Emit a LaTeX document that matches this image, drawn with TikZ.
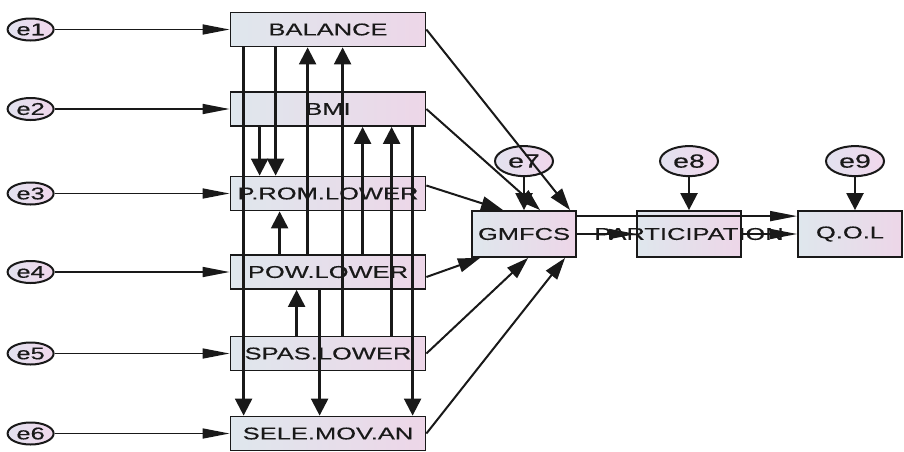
\documentclass[tikz,border=0pt]{standalone}
\usepackage{fontspec}
\newfontfamily\semfont[FakeStretch=1.5,FakeBold=0.4]{Liberation Sans}
\usetikzlibrary{arrows.meta,positioning,shapes.geometric}
\definecolor{boxleft}{RGB}{223,231,237}
\definecolor{boxright}{RGB}{237,214,232}
\definecolor{errleft}{RGB}{226,226,239}
\definecolor{errright}{RGB}{241,215,236}
\definecolor{ink}{RGB}{25,25,25}

\begin{document}
\begin{tikzpicture}[x=1pt,y=-1pt,
  obs/.style={draw=ink,line width=1.8pt,left color=boxleft,right color=boxright,
    minimum width=195pt,minimum height=34pt,inner sep=0pt,text=ink,
    font=\semfont\fontsize{17}{17}\selectfont},
  endo/.style={obs,minimum width=104pt,minimum height=46pt},
  semtext/.style={inner sep=0pt,text=ink,font=\semfont\fontsize{17}{17}\selectfont},
  err/.style={ellipse,draw=ink,line width=2pt,left color=errleft,right color=errright,
    minimum width=46pt,minimum height=22pt,inner sep=0pt,text=ink,
    font=\semfont\fontsize{17}{17}\selectfont},
  bigerr/.style={err,minimum width=58pt,minimum height=30pt,
    font=\semfont\fontsize{19}{19}\selectfont},
  harr/.style={-{Triangle[length=27pt,width=10pt]},line width=1.6pt,draw=ink},
  varr/.style={-{Triangle[length=17pt,width=17pt]},line width=2.4pt,draw=ink},
  darr/.style={-{Triangle[length=22pt,width=14pt]},line width=2pt,draw=ink}]
\useasboundingbox (0,0) rectangle (904,451);
% exogenous column
\node[obs] (bal) at (328,29.5) {BALANCE};
\node[obs] (bmi) at (328,109) {BMI};
\node[obs] (prom) at (328,193.5) {P.ROM.LOWER};
\node[obs] (pow) at (328,272) {POW.LOWER};
\node[obs] (spas) at (328,353.5) {SPAS.LOWER};
\node[obs] (sele) at (328,433.5) {SELE.MOV.AN};
% outcome chain
\node[endo] (gm) at (524,234) {GMFCS};
\node[endo] (part) at (689,234) {};
\node[semtext] (parttext) at (part) {PARTICIPATION};
\node[endo] (qol) at (850,234) {Q.O.L};
% error terms
\foreach \i/\b in {1/bal,2/bmi,3/prom,4/pow,5/spas,6/sele}{
  \node[err,left=175pt of \b] (e\i) {e\i};
  \draw[harr] (e\i) -- (\b);
}
\node[bigerr,above=33pt of gm] (e7) {e7};
\node[bigerr,above=33pt of part] (e8) {e8};
\node[bigerr,above=33pt of qol,xshift=5pt] (e9) {e9};
\draw[varr] (e7) -- (gm);
\draw[varr] (e8) -- (part);
\draw[varr] (e9) -- (e9 |- qol.north);
% paths inside the column
\foreach \s/\t/\dx in {bal/sele/14,bal/prom/46,bmi/prom/30,bmi/sele/183,pow/sele/90}
  \draw[varr] ([xshift=\dx]\s.south west) -- ([xshift=\dx]\t.north west);
\foreach \s/\t/\dx in {pow/bal/78,spas/bal/113,pow/bmi/133,spas/bmi/162,pow/prom/50,spas/pow/67}
  \draw[varr] ([xshift=\dx]\s.north west) -- ([xshift=\dx]\t.south west);
% paths to GMFCS
\draw[darr] (bal.east) -- ([xshift=99]gm.north west);
\draw[darr] (bmi.east) -- ([xshift=69]gm.north west);
\draw[darr] ([yshift=8]prom.east) -- ([xshift=32]gm.north west);
\draw[darr] ([yshift=-5]pow.east) -- ([xshift=9]gm.south west);
\draw[darr] (spas.east) -- ([xshift=57]gm.south west);
\draw[darr] (sele.east) -- ([xshift=94]gm.south west);
% GMFCS to participation and quality of life
\draw[harr] ([yshift=-6]gm.north east) -- ([yshift=-6]qol.north west);
\draw[harr] (gm) -- (part);
\draw[harr] (part) -- (qol);
\end{tikzpicture}
\end{document}
